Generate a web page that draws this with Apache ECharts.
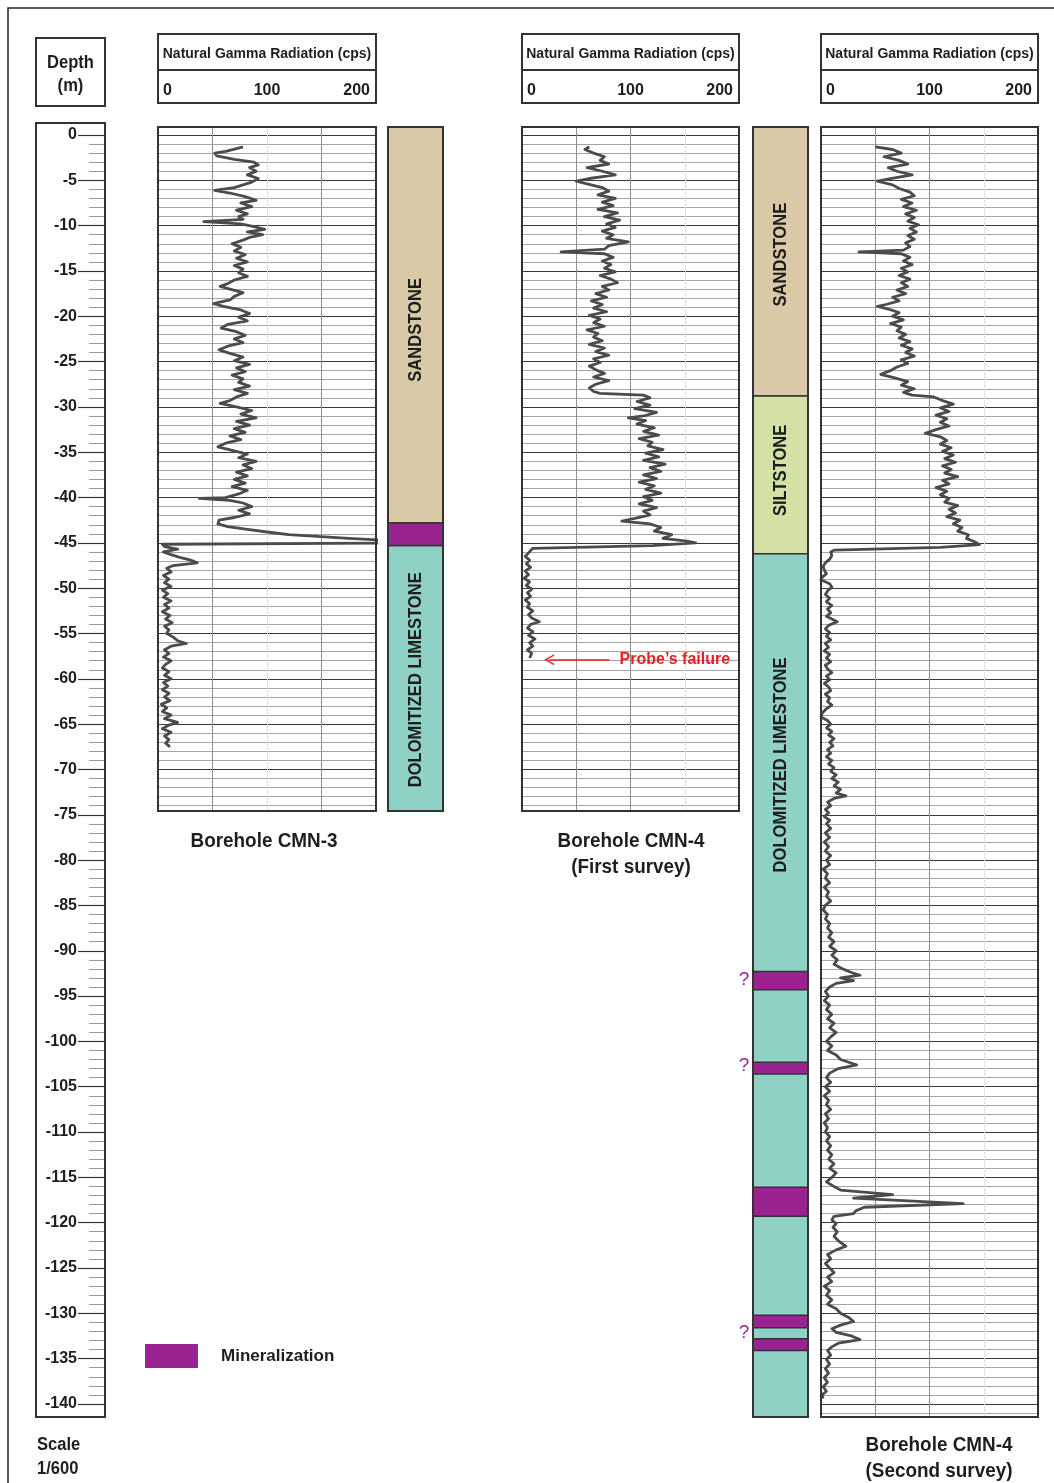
<!DOCTYPE html>
<html>
<head>
<meta charset="utf-8">
<title>Natural gamma logs CMN-3 / CMN-4</title>
<script src="https://cdn.jsdelivr.net/npm/echarts@6/dist/echarts.min.js"></script>
<style>
  html, body { margin: 0; padding: 0; background: #fff; }
  #chart { width: 1054px; height: 1483px; }
</style>
</head>
<body>
<div id="chart"></div>
<script>
// [depth (m), natural gamma (cps)]
const cmn3Gamma = [
  [-1.3,78],[-1.5,72],[-1.8,62],[-2.0,52],[-2.3,54],[-2.7,70],[-3.0,88],[-3.3,92],[-3.6,84],[-4.0,90],
  [-4.4,82],[-4.8,92],[-5.2,86],[-5.5,78],[-5.8,70],[-6.1,52],[-6.4,66],[-6.8,80],[-7.2,90],[-7.5,76],
  [-7.9,86],[-8.3,72],[-8.7,82],[-9.0,74],[-9.3,78],[-9.56,42],[-9.8,76],[-10.1,88],[-10.4,98],[-10.7,82],
  [-11.0,96],[-11.3,84],[-11.6,78],[-12.0,68],[-12.4,76],[-12.8,70],[-13.2,80],[-13.6,72],[-14.0,82],[-14.4,70],
  [-14.8,78],[-15.2,74],[-15.6,82],[-16.0,70],[-16.4,64],[-16.7,57],[-17.0,66],[-17.4,78],[-17.8,70],[-18.2,66],
  [-18.6,51],[-18.9,60],[-19.3,76],[-19.7,84],[-20.1,74],[-20.5,82],[-20.9,64],[-21.3,58],[-21.7,72],[-22.1,80],
  [-22.5,70],[-22.9,78],[-23.3,64],[-23.7,56],[-24.1,66],[-24.5,78],[-24.9,70],[-25.3,84],[-25.7,72],[-26.1,80],
  [-26.5,68],[-26.9,78],[-27.3,74],[-27.7,84],[-28.1,70],[-28.5,82],[-28.9,72],[-29.3,66],[-29.6,57],[-30.0,72],
  [-30.4,86],[-30.8,76],[-31.2,90],[-31.6,72],[-32.0,84],[-32.4,70],[-32.8,80],[-33.2,66],[-33.6,76],[-34.0,62],
  [-34.4,55],[-34.8,68],[-35.2,82],[-35.6,74],[-36.0,90],[-36.4,78],[-36.8,86],[-37.2,72],[-37.6,82],[-38.0,70],
  [-38.4,80],[-38.8,68],[-39.2,82],[-39.6,74],[-40.0,62],[-40.1,38],[-40.3,66],[-40.6,78],[-41.0,86],[-41.4,74],
  [-41.8,84],[-42.2,70],[-42.5,56],[-42.9,55],[-43.2,64],[-43.5,82],[-43.8,100],[-44.1,120],[-44.5,175],[-44.7,205],
  [-45.0,230],[-45.15,4],[-45.4,6],[-45.7,18],[-46.0,5],[-46.3,12],[-46.6,20],[-46.9,30],[-47.2,36],[-47.5,14],
  [-47.8,8],[-48.2,12],[-48.6,5],[-49.0,10],[-49.4,6],[-49.8,12],[-50.2,4],[-50.6,9],[-51.0,5],[-51.4,12],
  [-51.8,6],[-52.2,10],[-52.6,4],[-53.0,11],[-53.4,7],[-53.8,13],[-54.2,6],[-54.6,10],[-55.0,8],[-55.4,14],
  [-55.8,18],[-56.1,26],[-56.4,12],[-56.8,6],[-57.2,10],[-57.6,5],[-58.0,12],[-58.4,7],[-58.8,4],[-59.2,10],
  [-59.6,6],[-60.0,12],[-60.4,5],[-60.8,9],[-61.2,4],[-61.6,10],[-62.0,6],[-62.4,11],[-62.8,3],[-63.2,8],
  [-63.6,4],[-64.0,12],[-64.4,6],[-64.8,18],[-65.1,10],[-65.5,4],[-65.9,12],[-66.3,6],[-66.7,10],[-67.1,7],
  [-67.5,11]
];

const cmn4FirstGamma = [
  [-1.3,62],[-1.6,58],[-2.0,66],[-2.4,76],[-2.8,72],[-3.2,80],[-3.6,60],[-4.0,74],[-4.4,86],[-4.8,62],
  [-5.1,50],[-5.4,60],[-5.8,74],[-6.2,80],[-6.6,70],[-7.0,86],[-7.4,74],[-7.8,84],[-8.2,70],[-8.6,88],
  [-9.0,76],[-9.4,90],[-9.8,78],[-10.2,86],[-10.6,74],[-11.0,84],[-11.4,78],[-11.8,98],[-12.2,80],[-12.6,76],
  [-12.9,36],[-13.1,76],[-13.5,84],[-13.9,74],[-14.3,82],[-14.7,76],[-15.1,86],[-15.5,72],[-15.9,82],[-16.3,88],
  [-16.7,74],[-17.1,80],[-17.5,68],[-17.9,78],[-18.3,64],[-18.7,74],[-19.1,66],[-19.5,78],[-19.9,62],[-20.3,72],
  [-20.7,66],[-21.1,76],[-21.5,60],[-21.9,70],[-22.3,66],[-22.7,74],[-23.1,62],[-23.5,76],[-23.9,68],[-24.3,80],
  [-24.7,66],[-25.1,72],[-25.5,62],[-25.9,68],[-26.3,76],[-26.7,66],[-27.1,80],[-27.5,68],[-27.9,62],[-28.3,66],
  [-28.5,72],[-28.7,112],[-29.0,118],[-29.4,106],[-29.8,118],[-30.2,104],[-30.6,124],[-31.0,112],[-31.2,98],[-31.5,114],
  [-31.9,106],[-32.3,122],[-32.7,112],[-33.1,126],[-33.5,108],[-33.9,120],[-34.3,116],[-34.7,130],[-35.1,114],[-35.5,126],
  [-35.9,112],[-36.3,132],[-36.7,118],[-37.1,128],[-37.5,112],[-37.9,124],[-38.3,108],[-38.7,122],[-39.1,114],[-39.5,128],
  [-39.9,112],[-40.3,120],[-40.7,108],[-41.1,124],[-41.5,112],[-41.9,118],[-42.3,104],[-42.6,92],[-42.9,118],[-43.3,128],
  [-43.7,122],[-44.1,138],[-44.5,130],[-44.8,152],[-45.0,160],[-45.3,120],[-45.6,10],[-45.8,9],[-46.1,6],[-46.5,3],
  [-46.9,7],[-47.3,4],[-47.7,8],[-48.1,3],[-48.5,6],[-48.9,2],[-49.3,7],[-49.7,4],[-50.1,9],[-50.5,5],
  [-50.9,8],[-51.3,3],[-51.7,7],[-52.1,5],[-52.5,10],[-52.9,6],[-53.3,9],[-53.7,16],[-54.0,8],[-54.4,5],
  [-54.8,10],[-55.2,6],[-55.6,12],[-56.0,7],[-56.4,10],[-56.8,5],[-57.2,9],[-57.7,7]
];

const cmn4SecondGamma = [
  [-1.3,50],[-1.6,66],[-2.0,74],[-2.4,58],[-2.8,72],[-3.2,80],[-3.6,62],[-4.0,70],[-4.4,84],[-4.8,64],
  [-5.1,52],[-5.5,66],[-5.9,72],[-6.3,82],[-6.7,86],[-7.1,74],[-7.5,84],[-7.9,76],[-8.3,88],[-8.7,78],
  [-9.1,86],[-9.5,80],[-9.9,90],[-10.3,82],[-10.7,88],[-11.1,80],[-11.5,86],[-11.9,78],[-12.3,82],[-12.7,76],
  [-12.9,35],[-13.1,74],[-13.5,82],[-13.9,76],[-14.3,84],[-14.7,74],[-15.1,80],[-15.5,72],[-15.9,82],[-16.3,74],
  [-16.7,80],[-17.1,70],[-17.5,78],[-17.9,66],[-18.3,72],[-18.7,60],[-18.9,52],[-19.2,62],[-19.6,72],[-20.0,66],
  [-20.4,76],[-20.8,64],[-21.2,74],[-21.6,70],[-22.0,78],[-22.4,72],[-22.8,82],[-23.2,74],[-23.6,84],[-24.0,78],
  [-24.4,86],[-24.8,74],[-25.2,80],[-25.6,70],[-26.0,64],[-26.4,55],[-26.8,68],[-27.2,80],[-27.6,74],[-28.0,86],
  [-28.4,76],[-28.7,84],[-28.9,104],[-29.3,112],[-29.7,122],[-30.1,110],[-30.5,118],[-30.9,106],[-31.3,116],[-31.7,110],
  [-32.1,118],[-32.5,106],[-32.9,96],[-33.3,110],[-33.7,116],[-34.1,110],[-34.5,120],[-34.9,112],[-35.3,122],[-35.7,114],
  [-36.1,124],[-36.5,112],[-36.9,120],[-37.3,114],[-37.7,126],[-38.1,112],[-38.5,118],[-38.9,106],[-39.3,116],[-39.7,110],
  [-40.1,118],[-40.5,114],[-40.9,126],[-41.3,118],[-41.7,124],[-42.1,116],[-42.5,128],[-42.9,122],[-43.3,130],[-43.7,126],
  [-44.1,136],[-44.5,134],[-44.9,142],[-45.2,146],[-45.5,110],[-45.8,12],[-46.0,9],[-46.4,10],[-46.8,8],[-47.2,4],
  [-47.6,2],[-48.0,3],[-48.4,5],[-48.8,1],[-49.1,0],[-49.5,8],[-49.9,10],[-50.3,6],[-50.7,4],[-51.1,8],
  [-51.5,5],[-51.9,10],[-52.3,6],[-52.7,9],[-53.1,5],[-53.4,10],[-53.7,15],[-54.1,7],[-54.5,4],[-54.9,8],
  [-55.3,5],[-55.7,9],[-56.1,4],[-56.5,7],[-56.9,3],[-57.3,8],[-57.7,5],[-58.1,9],[-58.5,4],[-58.9,6],
  [-59.3,10],[-59.7,5],[-60.1,8],[-60.5,3],[-60.9,7],[-61.3,9],[-61.7,4],[-62.1,8],[-62.5,6],[-62.9,10],
  [-63.3,5],[-63.8,1],[-64.2,0],[-64.6,6],[-65.0,9],[-65.4,5],[-65.8,10],[-66.2,7],[-66.6,12],[-67.0,8],
  [-67.4,11],[-67.8,6],[-68.2,9],[-68.6,5],[-69.0,10],[-69.4,7],[-69.8,12],[-70.2,9],[-70.6,14],[-71.0,10],
  [-71.4,16],[-71.8,12],[-72.2,18],[-72.6,14],[-72.9,23],[-73.2,12],[-73.6,6],[-74.0,9],[-74.4,4],[-74.8,7],
  [-75.2,3],[-75.6,8],[-76.0,5],[-76.5,9],[-77.0,4],[-77.5,8],[-78.0,3],[-78.5,7],[-79.0,4],[-79.5,9],
  [-80.0,5],[-80.5,8],[-81.0,2],[-81.5,6],[-82.0,4],[-82.5,8],[-83.0,3],[-83.5,7],[-84.0,5],[-84.5,9],
  [-85.0,4],[-85.5,2],[-86.0,6],[-86.5,4],[-87.0,8],[-87.5,6],[-88.0,10],[-88.5,7],[-89.0,12],[-89.5,8],
  [-90.0,14],[-90.5,10],[-91.0,15],[-91.5,12],[-92.0,20],[-92.4,28],[-92.7,36],[-93.0,18],[-93.3,30],[-93.6,14],
  [-94.0,8],[-94.5,4],[-95.0,7],[-95.5,3],[-96.0,8],[-96.5,5],[-97.0,10],[-97.5,6],[-98.0,12],[-98.5,8],
  [-99.0,14],[-99.5,9],[-100.0,5],[-100.5,10],[-101.0,6],[-101.5,14],[-102.0,18],[-102.6,33],[-103.0,16],[-103.5,8],
  [-104.0,5],[-104.5,9],[-105.0,4],[-105.5,8],[-106.0,3],[-106.5,7],[-107.0,5],[-107.5,9],[-108.0,4],[-108.5,7],
  [-109.0,3],[-109.5,6],[-110.0,4],[-110.5,8],[-111.0,5],[-111.5,9],[-112.0,6],[-112.5,10],[-113.0,7],[-113.5,12],
  [-114.0,8],[-114.5,14],[-115.0,10],[-115.5,5],[-116.0,12],[-116.4,18],[-116.9,66],[-117.3,30],[-117.9,131],[-118.3,40],
  [-118.7,32],[-119.0,30],[-119.3,12],[-119.7,10],[-120.1,14],[-120.5,11],[-121.0,15],[-121.5,12],[-122.0,16],[-122.6,23],
  [-123.0,14],[-123.5,6],[-124.0,9],[-124.5,4],[-125.0,8],[-125.5,12],[-126.0,6],[-126.5,10],[-127.0,3],[-127.5,8],
  [-128.0,5],[-128.5,10],[-129.0,6],[-129.5,14],[-130.0,18],[-130.5,26],[-130.9,30],[-131.3,18],[-131.7,10],[-132.1,14],
  [-132.5,28],[-132.9,36],[-133.3,16],[-133.7,10],[-134.1,6],[-134.6,9],[-135.1,5],[-135.6,8],[-136.1,4],[-136.6,7],
  [-137.1,3],[-137.6,6],[-138.1,2],[-138.6,5],[-139.0,1],[-139.4,2]
];

// [unit, top depth, bottom depth, depth of the label centre]
const cmn3Units = [
  ['SANDSTONE', 0.9, -42.8, -21.5],
  ['DOLOMITIZED LIMESTONE', -45.3, -75, -60.1]
];
const cmn4Units = [
  ['SANDSTONE', 0.9, -28.8, -13.2],
  ['SILTSTONE', -28.8, -46.2, -37.0],
  ['DOLOMITIZED LIMESTONE', -46.2, -142, -69.5]
];
// mineralized intervals [top, bottom]
const cmn3Mineral = [[-42.8, -45.3]];
const cmn4Mineral = [[-92.3, -94.3], [-102.3, -103.6], [-116.1, -119.3], [-130.2, -131.6], [-132.8, -134.1]];
// depths flagged with "?"
const cmn4Uncertain = [-93.2, -102.7, -132.2];

const gammaTicks = [0, 100, 200];
const depthTicks = { min: -140, max: 0, step: 5 };
// probe failure arrow, CMN-4 first survey: [depth, from cps, to cps]
const probeFailure = [-57.9, 25, 80.7];

const lithoColors = {
  'SANDSTONE': '#d9c9a6',
  'SILTSTONE': '#d3e1a5',
  'DOLOMITIZED LIMESTONE': '#8fd1c4'
};
const MINERAL = '#9b2391';
const FONT = '"Liberation Sans", Arial, Helvetica, sans-serif';
const INK = '#1e1e1e';

const K = 9.064;   // px per metre
const Y0 = 135;    // pixel row of 0 m
const TOP = 127;

const logs = [
  { left: 158, width: 218, height: 684, data: cmn3Gamma, faint: 2 },
  { left: 522, width: 217, height: 684, data: cmn4FirstGamma, faint: 3 },
  { left: 821, width: 217, height: 1290, data: cmn4SecondGamma, faint: 3 }
];
const columns = [
  { left: 388, width: 55, height: 684, units: cmn3Units, mineral: cmn3Mineral },
  { left: 753, width: 55, height: 1290, units: cmn4Units, mineral: cmn4Mineral, query: cmn4Uncertain }
];

const grid = [], xAxis = [], yAxis = [], series = [];

function depthRange(height) {
  return { max: (Y0 - TOP) / K, min: (Y0 - TOP - height) / K };
}
function hiddenAxis(extra) {
  return Object.assign({
    type: 'value',
    axisLine: { show: false },
    axisTick: { show: false },
    axisLabel: { show: false },
    splitLine: { show: false }
  }, extra);
}

// depth scale: a plain left axis sitting on the right edge of the depth box
grid.push({ left: 105, top: Y0, width: 4, height: (depthTicks.max - depthTicks.min) * K, outerBoundsMode: 'none' });
xAxis.push(hiddenAxis({ gridIndex: 0, min: 0, max: 1 }));
yAxis.push({
  gridIndex: 0,
  type: 'value',
  position: 'left',
  min: depthTicks.min,
  max: depthTicks.max,
  interval: depthTicks.step,
  axisLine: { show: false },
  axisTick: { show: true, length: 27, lineStyle: { color: '#333', width: 1.2 } },
  minorTick: { show: true, splitNumber: 5, length: 16, lineStyle: { color: '#9a9a9a', width: 1 } },
  axisLabel: { margin: 28, fontSize: 16, fontWeight: 'bold', color: INK, fontFamily: FONT },
  splitLine: { show: false }
});

// gamma logs
logs.forEach(lg => {
  const gi = grid.length;
  grid.push({ left: lg.left, top: TOP, width: lg.width, height: lg.height, outerBoundsMode: 'none' });
  lg.xi = xAxis.length;
  xAxis.push(hiddenAxis({
    gridIndex: gi, min: 0, max: 200, interval: 50,
    splitLine: { show: true, lineStyle: { width: 1, color: [0, 1, 2, 3, 4].map(i => i === lg.faint ? '#e2e2e2' : '#8e8e8e') } }
  }));
  const r = depthRange(lg.height);
  lg.yi = yAxis.length;
  yAxis.push(hiddenAxis({
    gridIndex: gi, min: r.min, max: r.max, splitNumber: 100, minInterval: 1, maxInterval: 1,
    splitLine: { show: true, lineStyle: { color: '#a4a4a4', width: 1 } }
  }));
  yAxis.push(hiddenAxis({
    gridIndex: gi, position: 'right', min: r.min, max: r.max, splitNumber: 20, minInterval: 5, maxInterval: 5,
    splitLine: { show: true, lineStyle: { color: '#3a3a3a', width: 1 } }
  }));
});

// lithology columns
columns.forEach(col => {
  const gi = grid.length;
  grid.push({ left: col.left, top: TOP, width: col.width, height: col.height, outerBoundsMode: 'none' });
  col.xi = xAxis.length;
  xAxis.push(hiddenAxis({ gridIndex: gi, min: 0, max: 1 }));
  const r = depthRange(col.height);
  col.yi = yAxis.length;
  yAxis.push(hiddenAxis({ gridIndex: gi, min: r.min, max: r.max }));
});

logs.forEach((lg, i) => {
  const s = {
    type: 'line',
    xAxisIndex: lg.xi,
    yAxisIndex: lg.yi,
    data: lg.data.map(p => [p[1], p[0]]),
    showSymbol: false,
    symbol: 'none',
    clip: true,
    silent: true,
    z: 3,
    lineStyle: { color: '#4b4b4b', width: 2.8, join: 'round' }
  };
  if (i === 1) {
    s.markLine = {
      silent: true,
      animation: false,
      symbol: ['path://M0,12 L6,0 L12,12 L10.3,12 L6,3.6 L1.7,12 Z', 'none'],
      symbolSize: [11, 10],
      lineStyle: { color: '#ee1d23', width: 1.6, type: 'solid' },
      label: {
        show: true, position: 'end', distance: 10, formatter: 'Probe\u2019s failure',
        color: '#ee1d23', fontSize: 16, fontWeight: 'bold', fontFamily: FONT
      },
      data: [[{ coord: [probeFailure[1], probeFailure[0]] }, { coord: [probeFailure[2], probeFailure[0]] }]]
    };
  }
  series.push(s);
});

columns.forEach(col => {
  series.push({
    type: 'custom',
    xAxisIndex: col.xi,
    yAxisIndex: col.yi,
    clip: true,
    silent: true,
    data: col.units.map(u => [0, u[1], u[2], u[3]]),
    renderItem: (params, api) => {
      const u = col.units[params.dataIndex];
      const cs = params.coordSys;
      const y1 = api.coord([0, api.value(1)])[1];
      const y2 = api.coord([0, api.value(2)])[1];
      const yl = api.coord([0, api.value(3)])[1];
      return {
        type: 'group',
        children: [
          { type: 'rect', shape: { x: cs.x, y: y1, width: cs.width, height: y2 - y1 },
            style: { fill: lithoColors[u[0]], stroke: '#333', lineWidth: 1.5 } },
          { type: 'text', x: cs.x + cs.width / 2 + 1, y: yl, rotation: Math.PI / 2, scaleX: 0.92,
            style: { text: u[0], fill: INK, font: 'bold 18px ' + FONT, align: 'center', verticalAlign: 'middle' } }
        ]
      };
    }
  });
  series.push({
    type: 'custom',
    name: 'Mineralization',
    xAxisIndex: col.xi,
    yAxisIndex: col.yi,
    clip: true,
    silent: true,
    itemStyle: { color: MINERAL },
    data: col.mineral.map(m => [0, m[0], m[1]]),
    renderItem: (params, api) => {
      const cs = params.coordSys;
      const y1 = api.coord([0, api.value(1)])[1];
      const y2 = api.coord([0, api.value(2)])[1];
      return { type: 'rect', shape: { x: cs.x, y: y1, width: cs.width, height: y2 - y1 },
        style: { fill: api.visual('color'), stroke: '#333', lineWidth: 1.5 } };
    }
  });
  if (col.query) {
    series.push({
      type: 'custom',
      xAxisIndex: col.xi,
      yAxisIndex: col.yi,
      clip: false,
      silent: true,
      data: col.query.map(d => [0, d]),
      renderItem: (params, api) => {
        const cs = params.coordSys;
        const y = api.coord([0, api.value(1)])[1];
        return { type: 'text', x: cs.x - 9, y: y,
          style: { text: '?', fill: MINERAL, font: '19px ' + FONT, align: 'center', verticalAlign: 'middle' } };
      }
    });
  }
});

const chart = echarts.init(document.getElementById('chart'), null, { renderer: 'canvas' });
chart.setOption({
  animation: false,
  backgroundColor: '#ffffff',
  textStyle: { fontFamily: FONT },
  legend: {
    data: ['Mineralization'],
    left: 145, top: 1344, padding: 0,
    icon: 'rect', itemWidth: 53, itemHeight: 24,
    selectedMode: false,
    textStyle: { fontSize: 17, fontWeight: 'bold', color: INK, fontFamily: FONT, padding: [0, 0, 0, 18] }
  },
  grid, xAxis, yAxis, series
});

// text helper; sx narrows the glyphs a little like the condensed face of the original
function txt(x, y, text, size, align, sx) {
  return {
    type: 'text', x, y, z: 101, scaleX: sx || 1,
    style: { text, font: 'bold ' + size + 'px ' + FONT, fill: INK,
      align: align || 'center', textAlign: align || 'center', verticalAlign: 'middle', textVerticalAlign: 'middle' }
  };
}
function box(x, y, w, h, lw) {
  return { type: 'rect', z: 100, shape: { x, y, width: w, height: h },
    style: { fill: null, stroke: '#333', lineWidth: lw || 2 } };
}

const els = [];
els.push({ type: 'rect', z: 100, shape: { x: 8, y: 8, width: 1100, height: 1600 },
  style: { fill: null, stroke: '#222', lineWidth: 1.5 } });
// depth header + column frame
els.push(box(36, 38, 69, 68));
els.push(txt(70.5, 63, 'Depth', 18, 'center', 0.92));
els.push(txt(70.5, 86, '(m)', 18, 'center', 0.92));
els.push(box(36, 123, 69, 1294));
// log frames, headers and header tick labels placed through the x scales
logs.forEach(lg => {
  els.push(box(lg.left, TOP, lg.width, lg.height));
  els.push(box(lg.left, 34, lg.width, 69));
  els.push({ type: 'line', z: 100, shape: { x1: lg.left, y1: 70, x2: lg.left + lg.width, y2: 70 },
    style: { stroke: '#333', lineWidth: 2 } });
  els.push(txt(lg.left + lg.width / 2, 54, 'Natural Gamma Radiation (cps)', 14));
  gammaTicks.forEach((t, i) => {
    const x = chart.convertToPixel({ xAxisIndex: lg.xi }, t);
    const last = i === gammaTicks.length - 1;
    const align = i === 0 ? 'left' : (last ? 'right' : 'center');
    const dx = i === 0 ? 5 : (last ? -6 : 0);
    els.push(txt(x + dx, 91, String(t), 16, align));
  });
});
columns.forEach(col => els.push(box(col.left, TOP, col.width, col.height)));
// captions
els.push(txt(264, 841, 'Borehole CMN-3', 21, 'center', 0.9));
els.push(txt(631, 841, 'Borehole CMN-4', 21, 'center', 0.9));
els.push(txt(631, 867, '(First survey)', 21, 'center', 0.9));
els.push(txt(939, 1445, 'Borehole CMN-4', 21, 'center', 0.9));
els.push(txt(939, 1471, '(Second survey)', 21, 'center', 0.9));
els.push(txt(37, 1445, 'Scale', 18, 'left', 0.92));
els.push(txt(37, 1469, '1/600', 18, 'left', 0.92));

chart.setOption({ graphic: { elements: els } });
</script>
</body>
</html>
